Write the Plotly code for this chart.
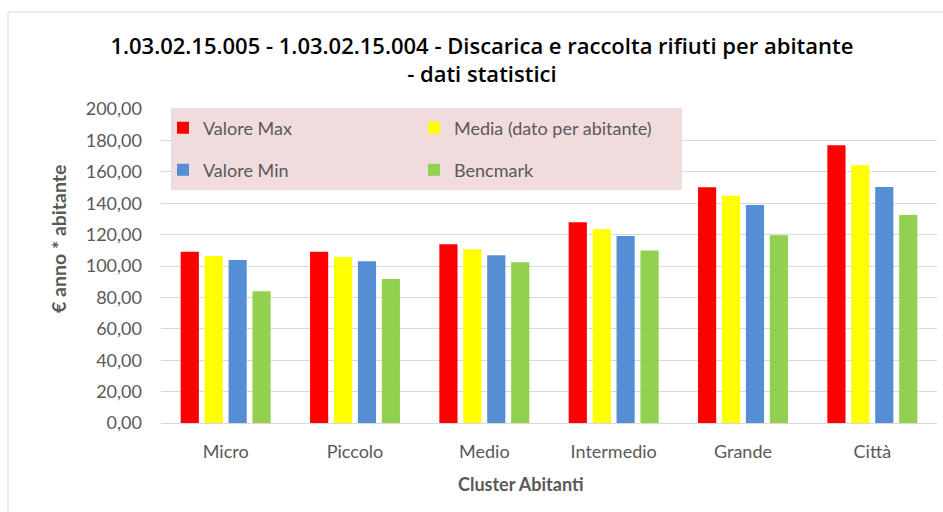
import plotly.graph_objects as go

categories = ["Micro", "Piccolo", "Medio", "Intermedio", "Grande", "Città"]
valore_max = [109.0, 109.0, 113.8, 127.8, 150.1, 176.9]
media = [106.4, 105.7, 110.6, 123.4, 144.8, 164.1]
valore_min = [103.8, 103.0, 106.8, 119.1, 138.9, 150.3]
benchmark = [83.9, 91.7, 102.4, 109.8, 119.6, 132.5]
y_ticks = [0, 20, 40, 60, 80, 100, 120, 140, 160, 180, 200]

W, H = 943, 512
L, R, T, B = 161, 6, 109, 89
pw, ph = W - L - R, H - T - B

def px_x(p):
    return (p - L) / pw

def px_y(p):
    return (H - B - p) / ph

font_title = "Open Sans, Liberation Sans, sans-serif"
font_bold = "Lato, Liberation Sans, sans-serif"
font_txt = "Lato, Open Sans, Liberation Sans, sans-serif"

fig = go.Figure()
series = [
    ("Valore Max", valore_max, "#ff0000", "legend"),
    ("Media (dato per abitante)", media, "#ffff00", "legend"),
    ("Valore Min", valore_min, "#558ed5", "legend2"),
    ("Bencmark", benchmark, "#92d050", "legend2"),
]
for name, vals, col, lg in series:
    fig.add_trace(go.Bar(x=categories, y=vals, name=name, marker_color=col,
                         marker_line_width=0, legend=lg))

leg_common = dict(orientation="h", bgcolor="rgba(0,0,0,0)", borderwidth=0,
                  font=dict(family=font_txt, size=18, color="#595959"),
                  entrywidth=206, entrywidthmode="pixels",
                  xanchor="left", yanchor="middle", itemwidth=30,
                  traceorder="normal")

fig.update_layout(
    width=W, height=H,
    margin=dict(l=L, r=R, t=T, b=B),
    paper_bgcolor="white", plot_bgcolor="white",
    separators=",.",
    barmode="group", bargap=0.26, bargroupgap=0.24,
    title=dict(text="1.03.02.15.005 - 1.03.02.15.004 - Discarica e raccolta rifiuti per abitante<br>- dati statistici",
               x=0.511, xanchor="center", y=0.895, yanchor="middle",
               font=dict(family=font_title, size=22, color="#000000", weight=600)),
    legend=dict(x=px_x(163), y=px_y(128), **leg_common),
    legend2=dict(x=px_x(163), y=px_y(170), **leg_common),
    xaxis=dict(showgrid=False, showline=True, linecolor="#d9d9d9", linewidth=1,
               ticks="", ticklabelstandoff=12,
               tickfont=dict(family=font_txt, size=18, color="#595959")),
    yaxis=dict(range=[0, 200], tickvals=y_ticks, tickformat=".2f",
               showgrid=True, gridcolor="#d9d9d9", gridwidth=1,
               zeroline=False, showline=False, ticks="", ticklabelstandoff=18,
               tickfont=dict(family=font_txt, size=18, color="#595959")),
    annotations=[
        dict(text="<b>Cluster Abitanti</b>", xref="paper", yref="paper",
             x=px_x(521), y=px_y(484), xanchor="center", yanchor="middle",
             showarrow=False, font=dict(family=font_bold, size=18, color="#595959")),
        dict(text="<b>€ anno * abitante</b>", xref="paper", yref="paper",
             x=px_x(58), y=px_y(239), xanchor="center", yanchor="middle",
             textangle=-90, showarrow=False,
             font=dict(family=font_bold, size=19.5, color="#595959")),
    ],
    shapes=[
        dict(type="rect", xref="paper", yref="paper",
             x0=px_x(171), x1=px_x(682), y0=px_y(190), y1=px_y(108),
             fillcolor="#f0dcdc", line=dict(width=0), layer="above"),
        dict(type="rect", xref="paper", yref="paper",
             x0=px_x(8), x1=px_x(960), y0=px_y(530), y1=px_y(12),
             fillcolor="rgba(0,0,0,0)", line=dict(color="#d9d9d9", width=1), layer="below"),
    ],
)

fig.write_html("out.html", config={"displayModeBar": False},
               post_script="document.body.style.margin='0px';")
